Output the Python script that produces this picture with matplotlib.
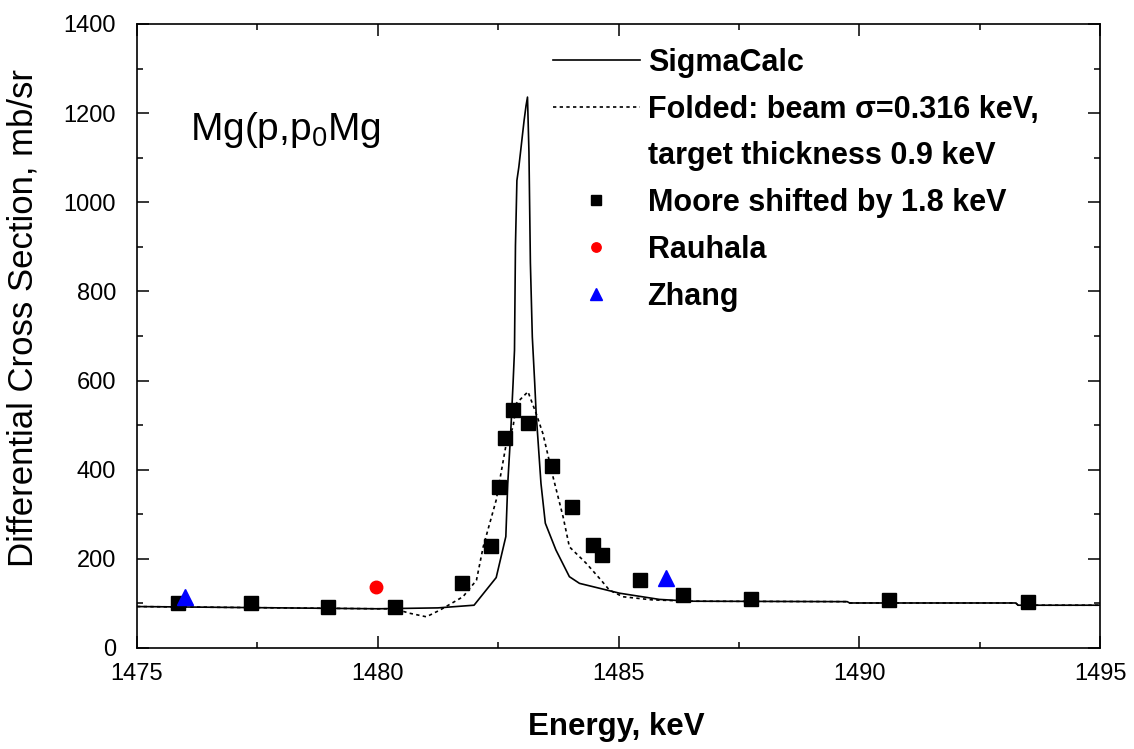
import matplotlib
matplotlib.use("Agg")
import matplotlib.pyplot as plt
from matplotlib.lines import Line2D
from matplotlib.ticker import MultipleLocator

plt.rcParams['font.family'] = ['Liberation Sans', 'DejaVu Sans']
plt.rcParams['mathtext.fontset'] = 'custom'
plt.rcParams['mathtext.rm'] = 'Liberation Sans'

# SigmaCalc curve
sc_x = [1475, 1480.0, 1481.25, 1482.0, 1482.46, 1482.66, 1482.70, 1482.76, 1482.81, 1482.84,
        1482.86, 1482.89, 1482.93, 1482.97, 1483.0, 1483.04, 1483.08, 1483.11, 1483.14, 1483.17,
        1483.21, 1483.26, 1483.29, 1483.39, 1483.48, 1483.7, 1483.98, 1484.19, 1485.02, 1485.85,
        1486.5, 1489.75, 1489.8, 1493.25, 1493.3, 1495]
sc_y = [93, 88, 90, 96, 158, 250, 369, 481, 593, 668,
        903, 1049, 1079, 1117, 1146, 1184, 1217, 1236, 1113, 864,
        698, 594, 526, 369, 280, 220, 160, 145, 123, 109,
        105, 104, 101, 101, 96, 96]

# Folded curve
fo_x = [1475, 1480.0, 1480.35, 1480.66, 1481.01, 1481.29, 1481.77, 1482.05, 1482.19, 1482.46,
        1482.67, 1482.81, 1482.88, 1483.12, 1483.29, 1483.43, 1483.64, 1483.85, 1483.98, 1484.33,
        1484.64, 1484.81, 1485.09, 1485.7, 1486.5, 1489.75, 1489.8, 1493.25, 1493.3, 1495]
fo_y = [93, 88, 88, 78, 70, 85, 115, 152, 227, 332,
        459, 496, 549, 575, 526, 481, 384, 294, 227, 190,
        152, 130, 115, 108, 105, 104, 101, 101, 96, 96]

# Moore shifted by 1.8 keV
mo_x = [1475.85, 1477.37, 1478.96, 1480.35, 1481.76, 1482.36, 1482.52, 1482.64, 1482.81, 1483.13,
        1483.62, 1484.03, 1484.48, 1484.66, 1485.45, 1486.33, 1487.75, 1490.61, 1493.51]
mo_y = [101, 101, 93, 93, 146, 229, 362, 472, 534, 505,
        409, 317, 232, 208, 152, 120, 111, 108, 104]

# Rauhala
ra_x = [1479.97]
ra_y = [137]

# Zhang
zh_x = [1476.0, 1485.99]
zh_y = [115, 157]

W, H = 1134, 749
fig = plt.figure(figsize=(W / 100, H / 100), dpi=100)
ax = fig.add_axes([137 / W, 1 - 648 / H, (1100 - 137) / W, (648 - 24) / H])

ax.plot(sc_x, sc_y, color='black', lw=1.2, label='SigmaCalc')
ax.plot(fo_x, fo_y, color='black', lw=1.2, linestyle=(0, (2, 2)),
        label='Folded: beam \u03c3=0.316 keV,')
ax.plot(mo_x, mo_y, linestyle='none', marker='s', ms=10, color='black',
        label='Moore shifted by 1.8 keV')
ax.plot(ra_x, ra_y, linestyle='none', marker='o', ms=9, color='#ff0000', label='Rauhala')
ax.plot(zh_x, zh_y, linestyle='none', marker='^', ms=11, color='#0000ff', label='Zhang')

ax.set_xlim(1475, 1495)
ax.set_ylim(0, 1400)
ax.xaxis.set_major_locator(MultipleLocator(5))
ax.xaxis.set_minor_locator(MultipleLocator(2.5))
ax.yaxis.set_major_locator(MultipleLocator(200))
ax.yaxis.set_minor_locator(MultipleLocator(100))
ax.tick_params(which='both', direction='in', top=True, right=True, width=1.1)
ax.tick_params(which='major', length=8.5, labelsize=17)
ax.tick_params(axis='x', which='major', pad=11)
ax.tick_params(axis='y', which='major', pad=15)
ax.tick_params(which='minor', length=4.3)
for s in ax.spines.values():
    s.set_linewidth(1.2)

fig.text(616 / W, 1 - 735 / H, 'Energy, keV', fontsize=22.5, fontweight='bold',
         ha='center', va='baseline')
fig.text(23 / W, 1 - 318 / H, 'Differential Cross Section, mb/sr', fontsize=25,
         rotation=90, ha='center', va='center')

ax.text((190 - 137) / 963, (648 - 140) / 624, 'Mg(p,p$_\\mathregular{0}$Mg',
        transform=ax.transAxes, fontsize=28, va='baseline')

h = ax.get_legend_handles_labels()[0]
blank = Line2D([], [], linestyle='none')
handles = [h[0], h[1], blank, h[2], h[3], h[4]]
labels = ['SigmaCalc', 'Folded: beam \u03c3=0.316 keV,', 'target thickness 0.9 keV',
          'Moore shifted by 1.8 keV', 'Rauhala', 'Zhang']
leg = ax.legend(handles, labels, loc='upper left', bbox_to_anchor=(0.403, 1.006),
                frameon=False, prop={'weight': 'bold', 'size': 22},
                handlelength=2.85, handletextpad=0.26, labelspacing=0.55,
                markerscale=0.75)

fig.savefig('out.png', dpi=100)
